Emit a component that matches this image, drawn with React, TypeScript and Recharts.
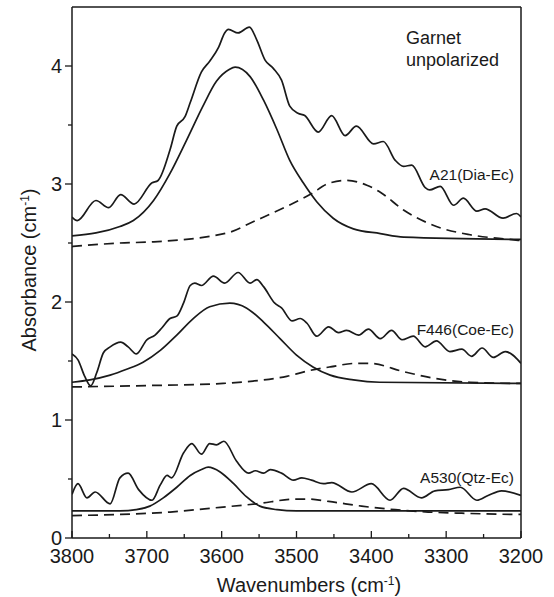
import { LineChart, Line, XAxis, YAxis, ReferenceLine } from 'recharts'

// Values: wavenumber (cm-1) and absorbance (cm-1)

// A21 (Dia-Ec) measured spectrum
const a21Wn = [3800, 3793, 3768, 3751, 3735, 3717, 3693, 3685, 3669, 3660, 3649, 3642, 3627, 3616, 3604, 3596, 3591, 3578, 3563, 3553, 3542, 3531, 3520, 3509, 3498, 3489, 3471, 3453, 3435, 3420, 3397, 3384, 3368, 3357, 3346, 3328, 3322, 3308, 3290, 3277, 3259, 3248, 3224, 3206, 3200]
const a21Abs = [2.72, 2.69, 2.86, 2.8, 2.91, 2.83, 3.01, 3.03, 3.29, 3.49, 3.57, 3.69, 3.95, 4.04, 4.16, 4.28, 4.31, 4.28, 4.33, 4.22, 4.05, 3.98, 3.88, 3.66, 3.6, 3.58, 3.44, 3.58, 3.41, 3.49, 3.34, 3.36, 3.2, 3.15, 3.16, 2.97, 2.95, 2.98, 2.82, 2.88, 2.77, 2.79, 2.71, 2.75, 2.72]
// A21 fitted bands
const a21BandAWn = [3800, 3736, 3718, 3691, 3669, 3647, 3625, 3607, 3590, 3582, 3562, 3544, 3526, 3509, 3491, 3473, 3451, 3424, 3388, 3357, 3200]
const a21BandAAbs = [2.56, 2.64, 2.69, 2.86, 3.09, 3.37, 3.66, 3.87, 3.97, 3.99, 3.91, 3.71, 3.46, 3.2, 3.01, 2.85, 2.71, 2.62, 2.58, 2.55, 2.53]
const a21BandBWn = [3800, 3736, 3691, 3590, 3558, 3513, 3482, 3455, 3433, 3406, 3388, 3357, 3313, 3268, 3215, 3200]
const a21BandBAbs = [2.47, 2.5, 2.51, 2.59, 2.68, 2.81, 2.91, 3.01, 3.03, 2.99, 2.93, 2.78, 2.64, 2.57, 2.53, 2.52]

// F446 (Coe-Ec) measured spectrum
const f446Wn = [3800, 3792, 3783, 3775, 3767, 3758, 3749, 3735, 3725, 3714, 3700, 3689, 3680, 3669, 3660, 3651, 3642, 3636, 3627, 3611, 3596, 3578, 3562, 3553, 3544, 3529, 3520, 3506, 3495, 3486, 3473, 3457, 3444, 3433, 3417, 3404, 3388, 3373, 3359, 3344, 3328, 3313, 3295, 3279, 3266, 3252, 3237, 3221, 3200]
const f446Abs = [1.56, 1.51, 1.37, 1.29, 1.4, 1.57, 1.62, 1.66, 1.62, 1.56, 1.68, 1.72, 1.78, 1.86, 1.88, 1.99, 2.14, 2.16, 2.14, 2.22, 2.16, 2.25, 2.16, 2.19, 2.13, 1.99, 1.95, 1.84, 1.86, 1.82, 1.71, 1.79, 1.74, 1.76, 1.72, 1.77, 1.69, 1.76, 1.68, 1.71, 1.62, 1.67, 1.58, 1.6, 1.54, 1.61, 1.53, 1.58, 1.48]
// F446 fitted bands
const f446BandAWn = [3800, 3776, 3749, 3727, 3705, 3682, 3660, 3638, 3616, 3589, 3567, 3544, 3522, 3500, 3478, 3455, 3424, 3389, 3200]
const f446BandAAbs = [1.32, 1.34, 1.38, 1.43, 1.49, 1.59, 1.72, 1.86, 1.96, 1.99, 1.95, 1.83, 1.69, 1.55, 1.45, 1.38, 1.34, 1.32, 1.31]
const f446BandBWn = [3800, 3714, 3598, 3558, 3513, 3482, 3455, 3420, 3402, 3357, 3313, 3268, 3206, 3200]
const f446BandBAbs = [1.28, 1.29, 1.31, 1.33, 1.37, 1.42, 1.45, 1.48, 1.48, 1.41, 1.35, 1.32, 1.31, 1.31]

// A530 (Qtz-Ec) measured spectrum
const a530Wn = [3800, 3792, 3780, 3769, 3749, 3736, 3725, 3711, 3693, 3682, 3673, 3667, 3651, 3640, 3627, 3616, 3607, 3597, 3580, 3564, 3555, 3544, 3535, 3520, 3504, 3493, 3480, 3464, 3453, 3426, 3400, 3375, 3357, 3333, 3315, 3297, 3281, 3259, 3244, 3226, 3200]
const a530Abs = [0.37, 0.46, 0.34, 0.39, 0.29, 0.51, 0.55, 0.41, 0.32, 0.45, 0.53, 0.51, 0.72, 0.8, 0.71, 0.8, 0.79, 0.82, 0.65, 0.55, 0.57, 0.55, 0.58, 0.55, 0.49, 0.51, 0.49, 0.46, 0.47, 0.39, 0.46, 0.32, 0.42, 0.34, 0.4, 0.41, 0.43, 0.32, 0.36, 0.4, 0.36]
// A530 fitted bands
const a530BandAWn = [3800, 3736, 3714, 3696, 3678, 3660, 3642, 3627, 3618, 3602, 3584, 3567, 3549, 3526, 3500, 3200]
const a530BandAAbs = [0.23, 0.23, 0.24, 0.27, 0.34, 0.43, 0.53, 0.58, 0.6, 0.56, 0.46, 0.35, 0.27, 0.24, 0.23, 0.23]
const a530BandBWn = [3800, 3736, 3669, 3602, 3553, 3500, 3486, 3457, 3413, 3368, 3324, 3279, 3204, 3200]
const a530BandBAbs = [0.19, 0.2, 0.22, 0.26, 0.29, 0.33, 0.33, 0.31, 0.27, 0.24, 0.22, 0.21, 0.2, 0.2]

const xTicks = [3800, 3750, 3700, 3650, 3600, 3550, 3500, 3450, 3400, 3350, 3300, 3250, 3200]
const yTicks = [0, 0.5, 1, 1.5, 2, 2.5, 3, 3.5, 4]

const toPoints = (wn: number[], abs: number[]) => wn.map((x, i) => ({ x, y: abs[i] }))

const series = [
  { id: 'a21', data: toPoints(a21Wn, a21Abs), dashed: false },
  { id: 'a21A', data: toPoints(a21BandAWn, a21BandAAbs), dashed: false },
  { id: 'a21B', data: toPoints(a21BandBWn, a21BandBAbs), dashed: true },
  { id: 'f446', data: toPoints(f446Wn, f446Abs), dashed: false },
  { id: 'f446A', data: toPoints(f446BandAWn, f446BandAAbs), dashed: false },
  { id: 'f446B', data: toPoints(f446BandBWn, f446BandBAbs), dashed: true },
  { id: 'a530', data: toPoints(a530Wn, a530Abs), dashed: false },
  { id: 'a530A', data: toPoints(a530BandAWn, a530BandAAbs), dashed: false },
  { id: 'a530B', data: toPoints(a530BandBWn, a530BandBAbs), dashed: true },
]

const INK = '#1a1a1a'
const FONT = '"Liberation Sans", Arial, sans-serif'

// x ticks point into the plot, labels only on the hundreds
const XTick = ({ x, y, payload }: any) => {
  const major = payload.value % 100 === 0
  return (
    <g>
      <line x1={x} x2={x} y1={y} y2={y - (major ? 7 : 4)} stroke={INK} strokeWidth={1.3} />
      {major && (
        <text x={x} y={y + 11} dy="0.71em" textAnchor="middle" fill={INK} fontSize={20} fontFamily={FONT}>
          {payload.value}
        </text>
      )}
    </g>
  )
}

// y ticks point outward, labels only on integers
const YTick = ({ x, y, payload }: any) => {
  const major = Number.isInteger(payload.value)
  return (
    <g>
      <line x1={x - (major ? 7 : 4)} x2={x} y1={y} y2={y} stroke={INK} strokeWidth={1.3} />
      {major && (
        <text x={x - 10} y={y} dy="0.34em" textAnchor="end" fill={INK} fontSize={20} fontFamily={FONT}>
          {payload.value}
        </text>
      )}
    </g>
  )
}

const sampleLabel = { position: 'absolute' as const, fontSize: 15.5, color: INK, whiteSpace: 'nowrap' as const, lineHeight: 1 }

export default function App() {
  return (
    <div style={{ position: 'absolute', left: 0, top: 0, width: 554, height: 597, background: '#fff', fontFamily: FONT }}>
      <LineChart width={554} height={597} margin={{ top: 7, right: 33, left: 12, bottom: 9 }}>
        <XAxis
          type="number"
          dataKey="x"
          domain={[3200, 3800]}
          reversed
          allowDataOverflow
          ticks={xTicks}
          interval={0}
          tick={<XTick />}
          tickLine={false}
          tickSize={0}
          tickMargin={0}
          height={50}
          axisLine={{ stroke: INK, strokeWidth: 1.5 }}
        />
        <YAxis
          type="number"
          dataKey="y"
          domain={[0, 4.5]}
          allowDataOverflow
          ticks={yTicks}
          interval={0}
          tick={<YTick />}
          tickLine={false}
          tickSize={0}
          tickMargin={0}
          width={60}
          axisLine={{ stroke: INK, strokeWidth: 1.5 }}
        />
        <ReferenceLine y={4.5} stroke={INK} strokeWidth={1.5} />
        <ReferenceLine x={3200} stroke={INK} strokeWidth={1.5} />
        {series.map(s => (
          <Line
            key={s.id}
            data={s.data}
            dataKey="y"
            type="monotone"
            stroke={INK}
            strokeWidth={1.7}
            strokeDasharray={s.dashed ? '10 6' : undefined}
            dot={false}
            activeDot={false}
            isAnimationActive={false}
          />
        ))}
      </LineChart>

      <div style={{ position: 'absolute', left: 406, top: 27, fontSize: 18, color: INK, lineHeight: '22px' }}>
        Garnet<br />unpolarized
      </div>
      <div style={{ ...sampleLabel, right: 40, top: 167 }}>A21(Dia-Ec)</div>
      <div style={{ ...sampleLabel, right: 40, top: 322 }}>F446(Coe-Ec)</div>
      <div style={{ ...sampleLabel, right: 40, top: 470 }}>A530(Qtz-Ec)</div>

      <div
        style={{
          position: 'absolute', left: 29, top: 270, fontSize: 20, color: INK, whiteSpace: 'nowrap',
          transform: 'translate(-50%, -50%) rotate(-90deg)', lineHeight: 1,
        }}
      >
        Absorbance (cm<sup style={{ fontSize: 12 }}>-1</sup>)
      </div>
      <div
        style={{
          position: 'absolute', left: 309, top: 585, fontSize: 20, color: INK, whiteSpace: 'nowrap',
          transform: 'translate(-50%, -50%)', lineHeight: 1,
        }}
      >
        Wavenumbers (cm<sup style={{ fontSize: 12 }}>-1</sup>)
      </div>
    </div>
  )
}
